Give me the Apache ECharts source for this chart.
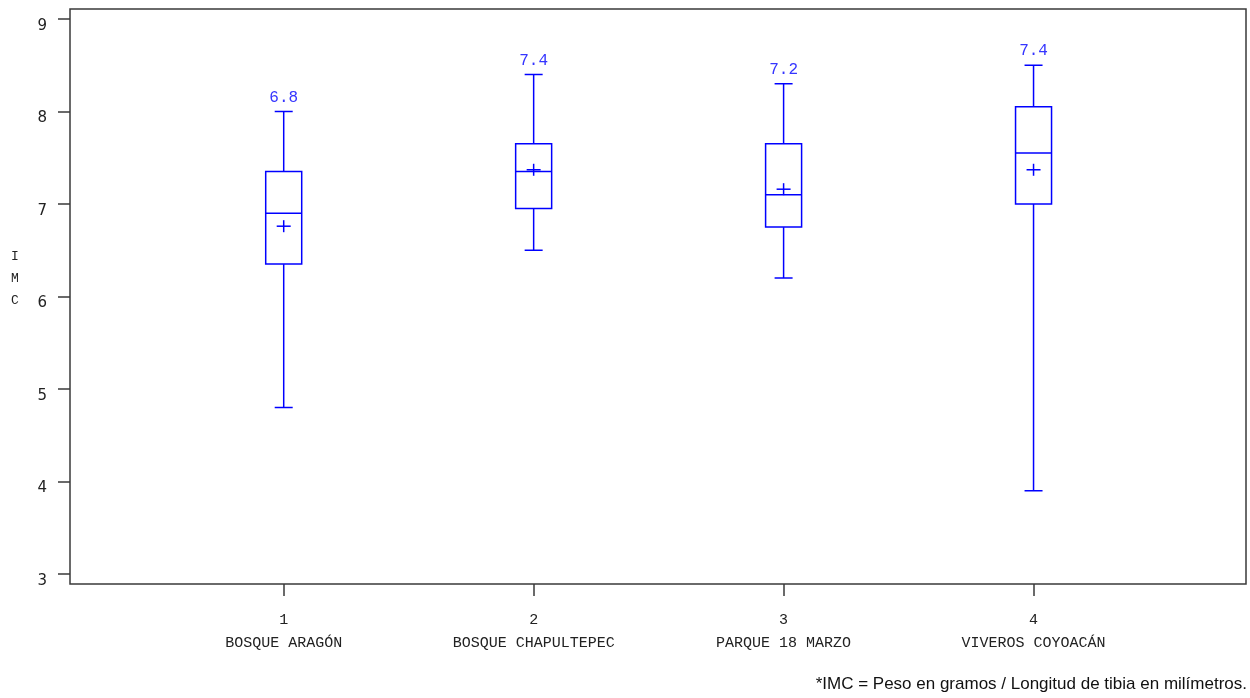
<!DOCTYPE html>
<html>
<head>
<meta charset="utf-8">
<script src="https://cdn.jsdelivr.net/npm/echarts@6/dist/echarts.min.js"></script>
<style>
html,body{margin:0;padding:0;background:#fff;}
#chart{width:1250px;height:698px;}
</style>
</head>
<body>
<div id="chart"></div>
<script>
// ---- data ----
const groupIds = [1, 2, 3, 4];
const sites = ['BOSQUE ARAGÓN', 'BOSQUE CHAPULTEPEC', 'PARQUE 18 MARZO', 'VIVEROS COYOACÁN'];
const whiskerLow = [4.8, 6.5, 6.2, 3.9];
const q1 = [6.35, 6.95, 6.75, 7.0];
const median = [6.9, 7.35, 7.1, 7.55];
const q3 = [7.35, 7.65, 7.65, 8.05];
const whiskerHigh = [8.0, 8.4, 8.3, 8.5];
const means = [6.76, 7.37, 7.16, 7.37];
const yTicks = [3, 4, 5, 6, 7, 8, 9];
const footnote = '*IMC = Peso en gramos / Longitud de tibia en milímetros.';
const yTitle = 'I\nM\nC';

const boxData = groupIds.map((g, i) => [g, whiskerLow[i], q1[i], median[i], q3[i], whiskerHigh[i], means[i]]);

const BLUE = '#0000ff';
const AXIS = '#3a3a3a';

function renderBox(params, api) {
  const x = api.value(0);
  const pLo = api.coord([x, api.value(1)]);
  const pQ1 = api.coord([x, api.value(2)]);
  const pMed = api.coord([x, api.value(3)]);
  const pQ3 = api.coord([x, api.value(4)]);
  const pHi = api.coord([x, api.value(5)]);
  const pMean = api.coord([x, api.value(6)]);
  const cx = pMed[0];
  const hb = 18, hc = 9, pw = 7, ph = 6;
  const ls = { stroke: BLUE, lineWidth: 1.5, fill: null };
  const line = (x1, y1, x2, y2) => ({ type: 'line', shape: { x1, y1, x2, y2 }, style: ls });
  return {
    type: 'group',
    children: [
      { type: 'rect', shape: { x: cx - hb, y: pQ3[1], width: 2 * hb, height: pQ1[1] - pQ3[1] }, style: { stroke: BLUE, lineWidth: 1.5, fill: 'none' } },
      line(cx - hb, pMed[1], cx + hb, pMed[1]),
      line(cx, pQ3[1], cx, pHi[1]),
      line(cx, pQ1[1], cx, pLo[1]),
      line(cx - hc, pHi[1], cx + hc, pHi[1]),
      line(cx - hc, pLo[1], cx + hc, pLo[1]),
      line(cx - pw, pMean[1], cx + pw, pMean[1]),
      line(cx, pMean[1] - ph, cx, pMean[1] + ph),
      {
        type: 'text',
        x: cx, y: pHi[1] - 6,
        style: {
          text: api.value(6).toFixed(1),
          textAlign: 'center', textVerticalAlign: 'bottom',
          font: '16px "Liberation Mono", monospace',
          fill: '#3535ff'
        }
      }
    ]
  };
}

const chart = echarts.init(document.getElementById('chart'), null, { renderer: 'canvas' });
chart.setOption({
  animation: false,
  backgroundColor: '#fff',
  grid: {
    left: 70, right: 4, top: 9, bottom: 114,
    show: true, borderColor: AXIS, borderWidth: 1.5, backgroundColor: 'transparent'
  },
  xAxis: {
    type: 'value', min: 0.145, max: 4.85,
    axisLine: { show: false },
    splitLine: { show: false },
    axisTick: { show: true, length: 12, customValues: groupIds, lineStyle: { color: AXIS, width: 1.5 } },
    axisLabel: {
      customValues: groupIds,
      margin: 25,
      formatter: v => '{n|' + v + '}\n{s|' + sites[groupIds.indexOf(v)] + '}',
      rich: {
        n: { fontFamily: '"Liberation Mono", monospace', fontSize: 15, lineHeight: 23, color: '#222' },
        s: { fontFamily: '"Liberation Mono", monospace', fontSize: 15, lineHeight: 23, color: '#222' }
      }
    }
  },
  yAxis: {
    type: 'value', min: 2.892, max: 9.108,
    axisLine: { show: false },
    splitLine: { show: false },
    axisTick: { show: true, length: 12, customValues: yTicks, lineStyle: { color: AXIS, width: 1.5 } },
    axisLabel: {
      customValues: yTicks,
      margin: 23,
      fontFamily: '"DejaVu Sans", sans-serif', fontSize: 15, color: '#222',
      verticalAlign: 'top', lineHeight: 14
    }
  },
  graphic: [
    {
      type: 'text', left: 11, top: 246,
      style: { text: yTitle, font: '13px "Liberation Mono", monospace', fill: '#222', lineHeight: 21.7, textAlign: 'center' }
    },
    {
      type: 'text', right: 3, top: 676,
      style: { text: footnote, font: '17px "Liberation Sans", Arial, sans-serif', fill: '#111' }
    }
  ],
  series: [{
    type: 'custom',
    renderItem: renderBox,
    data: boxData,
    encode: { x: 0, y: [1, 2, 3, 4, 5, 6] },
    clip: false,
    silent: true
  }]
});
</script>
</body>
</html>
